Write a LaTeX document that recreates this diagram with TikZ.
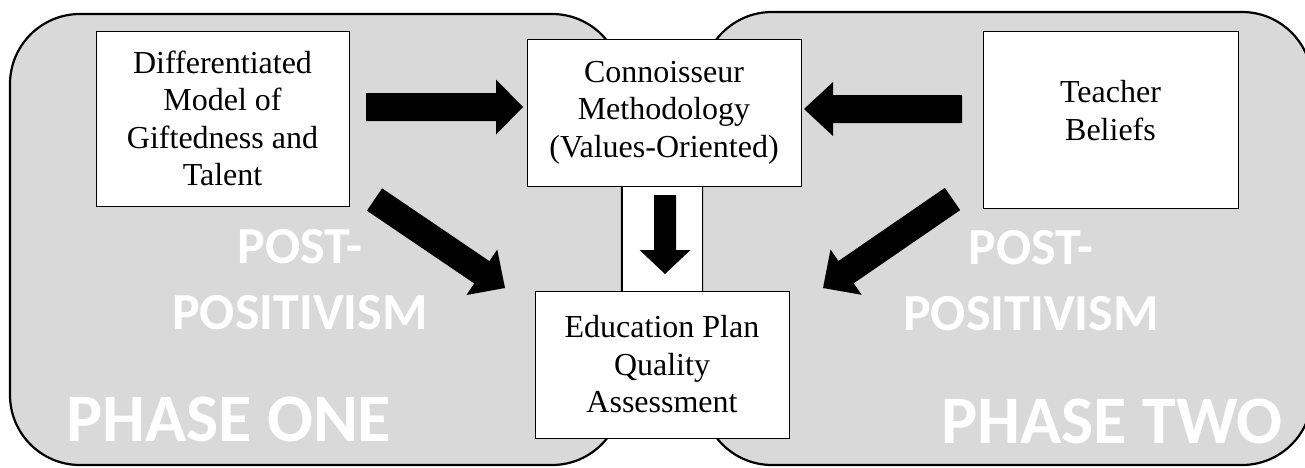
\documentclass[tikz,border=0pt]{standalone}
\usepackage{fontspec}
\setmainfont{Liberation Serif}
\newfontfamily\calib{Carlito}
\usetikzlibrary{calc}
\definecolor{panelgray}{HTML}{D9D9D9}
\tikzset{
  panel/.style={draw=black, line width=2.2pt, fill=panelgray, rounded corners=70pt},
  box/.style={draw=black, line width=1pt, fill=white, inner sep=0pt, align=center,
    font=\fontsize{32}{37.5}\selectfont},
  bigtxt/.style={text=white, inner sep=0pt, align=center, font=\calib\bfseries\fontsize{52}{66}\selectfont},
  phasetxt/.style={text=white, inner sep=0pt, font=\calib\bfseries\fontsize{68}{72}\selectfont},
  arrowfill/.style={fill=black},
}
\newcommand\blockarr[6]{%
  \coordinate (#1h) at ($(#3)!#6!(#2)$);
  \fill[arrowfill] ($(#2)!#4!90:(#3)$) -- ($(#1h)!#4!90:(#3)$) -- ($(#1h)!#5!90:(#3)$)
    -- (#3) -- ($(#1h)!#5!-90:(#3)$) -- ($(#1h)!#4!-90:(#3)$) -- ($(#2)!#4!-90:(#3)$) -- cycle;}
\begin{document}
\begin{tikzpicture}[x=1pt,y=-1pt]
\useasboundingbox (0,0) rectangle (1305,467);
\clip (0,0) rectangle (1305,467);
% panels
\draw[panel] (10,14) rectangle (622,465);
\draw[panel] (702,12) rectangle (1312,465);
% big labels
\node[bigtxt] (pp1) at (300,280) {POST-\\POSITIVISM};
\node[bigtxt] (pp2) at (1031,281) {POST-\\POSITIVISM};
\node[phasetxt, anchor=base west] (ph1) at (66,441) {PHASE ONE};
\node[phasetxt, anchor=base east] (ph2) at (1283,443) {PHASE TWO};
% boxes
\node[box, minimum width=80pt, minimum height=105pt] (strip) at (662,238.5) {};
\node[box, minimum width=253pt, minimum height=175pt] (diff) at (222.5,118.5)
  {Differentiated\\Model of\\Giftedness and\\Talent};
\node[box, minimum width=274pt, minimum height=147pt] (conn) at (664,112.5)
  {Connoisseur\\Methodology\\(Values-Oriented)};
\node[box, minimum width=254pt, minimum height=147pt] (edu) at (662,364.5)
  {Education Plan\\Quality\\Assessment};
\node[box, minimum width=255pt, minimum height=177pt] (teach) at (1110.5,119.5)
  {Teacher\\Beliefs\\[-19pt]\mbox{}};
% arrow end points
\coordinate (a1t) at (366,107);   \coordinate (a1p) at (523,107);
\coordinate (a2t) at (962,109);   \coordinate (a2p) at (804,109);
\coordinate (a3t) at (665,195);   \coordinate (a3p) at (665,274);
\coordinate (a4t) at (374.5,199.5); \coordinate (a4p) at (505,288);
\coordinate (a5t) at (952.5,199); \coordinate (a5p) at (823,288);
\blockarr{a1}{a1t}{a1p}{14pt}{27.5pt}{27pt}
\blockarr{a2}{a2t}{a2p}{14pt}{27pt}{29pt}
\blockarr{a3}{a3t}{a3p}{11pt}{25.5pt}{24pt}
\blockarr{a4}{a4t}{a4p}{13.5pt}{27.5pt}{28pt}
\blockarr{a5}{a5t}{a5p}{13.5pt}{27.5pt}{28pt}
\end{tikzpicture}
\end{document}
